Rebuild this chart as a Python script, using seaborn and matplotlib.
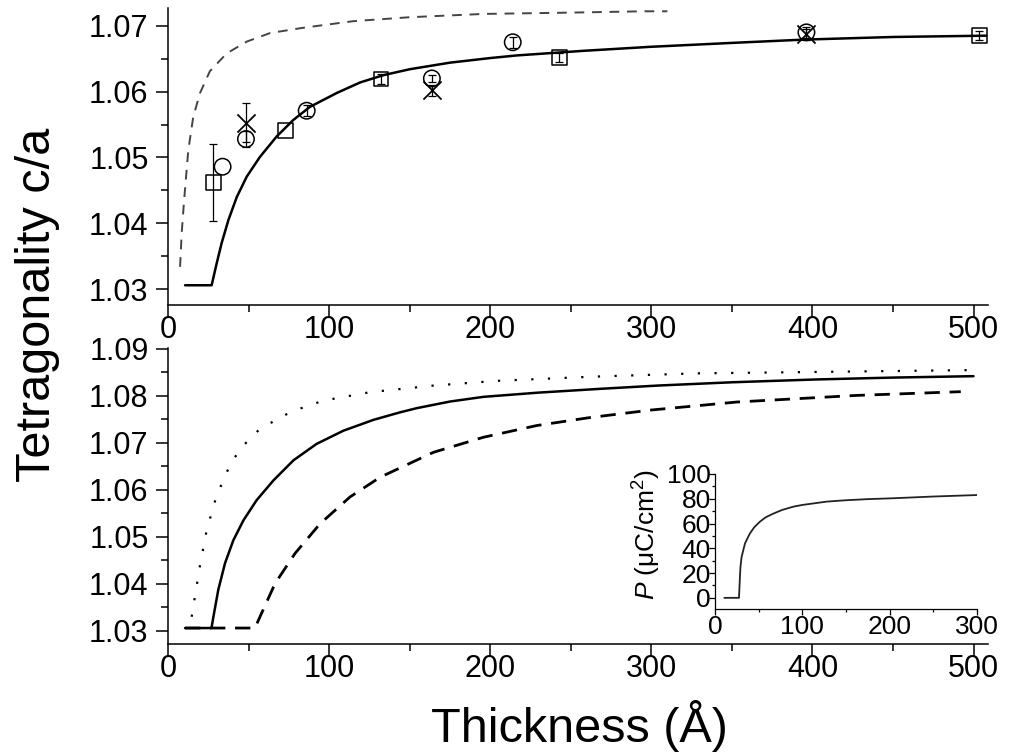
import numpy as np
import pandas as pd
import matplotlib
matplotlib.use("Agg")
import matplotlib.pyplot as plt
import seaborn as sns
from matplotlib.ticker import MultipleLocator, FormatStrFormatter

# --- values ---
# top panel: fit (solid), bulk-like curve (dashed), measured points
top_fit_x = [10.6, 27.1, 30.2, 33.3, 37.5, 42.7, 48.9, 57.1, 67.5, 77.8, 88.2, 104.8,
             119.3, 133.7, 150.0, 175.0, 200.0, 216.6, 258.0, 299.0, 350.0, 394.6,
             450.0, 508.0]
top_fit_y = [1.0306, 1.0306, 1.0339, 1.0370, 1.0405, 1.0440, 1.0471, 1.0501, 1.0532,
             1.0557, 1.0577, 1.0598, 1.0614, 1.0625, 1.0634, 1.0644, 1.0651, 1.0655,
             1.0662, 1.0668, 1.0674, 1.0679, 1.0683, 1.0685]
top_dash_x = [7.5, 8.5, 10.0, 12.6, 15.7, 19.9, 26.0, 36.4, 48.9, 63.4, 84.0, 115.0,
              150.0, 195.8, 250.0, 295.0, 310.0]
top_dash_y = [1.0334, 1.0385, 1.0435, 1.0511, 1.0562, 1.0598, 1.0631, 1.0658, 1.0676,
              1.0689, 1.0697, 1.0707, 1.0713, 1.0718, 1.0720, 1.0722, 1.0722]

sq_x = [28.2, 73.1, 132.3, 243.0, 503.7]
sq_y = [1.0462, 1.0541, 1.0619, 1.0652, 1.0685]
sq_err = [0.0058, 0.0, 0.0008, 0.0007, 0.0007]
circ_x = [33.9, 48.4, 86.1, 163.8, 214.0, 396.3]
circ_y = [1.0486, 1.0528, 1.0571, 1.0620, 1.0675, 1.0690]
circ_err = [0.0, 0.0012, 0.0008, 0.0005, 0.0008, 0.0008]
cross_x = [48.4, 163.8, 396.3]
cross_y = [1.0553, 1.0602, 1.0687]
cross_err = [0.0030, 0.0008, 0.0008]

# bottom panel: three model curves
bot_solid_x = [10.6, 27.0, 28.2, 31.2, 35.4, 40.6, 46.8, 55.0, 65.4, 77.9, 92.3, 108.9,
               127.5, 144.0, 154.5, 175.0, 195.8, 230.0, 268.0, 303.9, 350.0, 402.3,
               450.0, 500.0]
bot_solid_y = [1.0306, 1.0306, 1.0330, 1.0387, 1.0444, 1.0493, 1.0535, 1.0578, 1.0620,
               1.0663, 1.0698, 1.0726, 1.0749, 1.0765, 1.0774, 1.0788, 1.0798, 1.0807,
               1.0815, 1.0822, 1.0829, 1.0835, 1.0839, 1.0842]
bot_dot_x = [14.7, 19.9, 24.0, 30.1, 39.4, 47.8, 57.1, 76.8, 96.5, 125.5, 164.8, 204.0,
             264.0, 328.5, 427.0, 500.0]
bot_dot_y = [1.0330, 1.0440, 1.0514, 1.0587, 1.0660, 1.0698, 1.0730, 1.0767, 1.0790,
             1.0808, 1.0822, 1.0832, 1.0841, 1.0848, 1.0852, 1.0855]
bot_dash_x = [10.6, 54.0, 57.1, 66.5, 78.9, 94.4, 113.0, 131.7, 164.8, 195.8, 229.0,
              262.0, 300.0, 353.1, 427.0, 492.1]
bot_dash_y = [1.0306, 1.0306, 1.0330, 1.0401, 1.0465, 1.0528, 1.0585, 1.0627, 1.0680,
              1.0712, 1.0737, 1.0754, 1.0770, 1.0787, 1.0801, 1.0809]

# inset: polarization vs thickness
ins_x = [10.7, 27.5, 28.6, 29.2, 30.5, 34.4, 40.0, 45.0, 51.5, 58.0, 66.8, 77.0, 89.7,
         100.0, 128.0, 150.0, 175.0, 204.0, 250.0, 300.0]
ins_y = [0.0, 0.0, 17.0, 25.0, 33.0, 44.0, 52.0, 57.0, 61.5, 65.0, 68.0, 71.0, 73.6,
         75.0, 77.7, 78.8, 79.7, 80.4, 81.8, 83.0]

# --- style ---
sns.set_theme(style="ticks")
plt.rcParams["font.family"] = ["Liberation Sans", "DejaVu Sans"]
plt.rcParams["text.color"] = "black"
plt.rcParams["axes.labelcolor"] = "black"
plt.rcParams["mathtext.fontset"] = "custom"
plt.rcParams["mathtext.rm"] = "Liberation Sans"
plt.rcParams["mathtext.it"] = "Liberation Sans:italic"

fig = plt.figure(figsize=(10.15, 7.55), dpi=100)
ax_top = fig.add_axes([0.1655, 0.5960, 0.8079, 0.3934])
ax_bot = fig.add_axes([0.1655, 0.1470, 0.8079, 0.3921])
ax_in = fig.add_axes([0.7044, 0.1934, 0.2581, 0.1788])


def frame(ax, size, major, minor, width):
    for s in ["top", "right"]:
        ax.spines[s].set_visible(False)
    for s in ["left", "bottom"]:
        ax.spines[s].set_linewidth(width)
        ax.spines[s].set_color("black")
    ax.tick_params(which="both", direction="out", colors="black", width=width,
                   labelsize=size)
    ax.tick_params(which="major", length=major)
    ax.tick_params(which="minor", length=minor)
    ax.set_xlabel("")
    ax.set_ylabel("")
    ax.grid(False)
    ax.set_facecolor("none")


# top panel
sns.lineplot(x=top_dash_x, y=top_dash_y, ax=ax_top, color="#444444", linewidth=1.4,
             linestyle=(0, (5, 4)), estimator=None)
sns.lineplot(x=top_fit_x, y=top_fit_y, ax=ax_top, color="black", linewidth=1.8,
             estimator=None)

for xs, ys, es in [(sq_x, sq_y, sq_err), (circ_x, circ_y, circ_err),
                   (cross_x, cross_y, cross_err)]:
    keep = [i for i, e in enumerate(es) if e > 0]
    ax_top.errorbar([xs[i] for i in keep], [ys[i] for i in keep],
                    yerr=[es[i] for i in keep], fmt="none", ecolor="black",
                    elinewidth=0.9, capsize=3, capthick=0.9, zorder=4)

sns.scatterplot(x=sq_x, y=sq_y, ax=ax_top, marker="s", s=110, facecolors="none",
                edgecolor="black", linewidth=1.1, zorder=5)
sns.scatterplot(x=circ_x, y=circ_y, ax=ax_top, marker="o", s=140, facecolors="none",
                edgecolor="black", linewidth=1.1, zorder=5)
sns.scatterplot(x=cross_x, y=cross_y, ax=ax_top, marker="x", s=170, color="black",
                linewidth=1.3, zorder=5)

# bottom panel
sns.lineplot(x=bot_dot_x, y=bot_dot_y, ax=ax_bot, color="black", linewidth=1.6,
             linestyle=(0, (1, 6.5)), estimator=None)
sns.lineplot(x=bot_dash_x, y=bot_dash_y, ax=ax_bot, color="black", linewidth=2.0,
             linestyle=(0, (5.5, 3.5)), estimator=None)
sns.lineplot(x=bot_solid_x, y=bot_solid_y, ax=ax_bot, color="black", linewidth=1.8,
             estimator=None)

# inset
sns.lineplot(x=ins_x, y=ins_y, ax=ax_in, color="#222222", linewidth=1.3,
             estimator=None)

# axes, ticks
for ax, lo, hi in [(ax_top, 1.0276, 1.0727), (ax_bot, 1.0272, 1.0902)]:
    frame(ax, 22, 9, 5, 1.1)
    ax.set_xlim(0, 509)
    ax.set_ylim(lo, hi)
    ax.xaxis.set_major_locator(MultipleLocator(100))
    ax.xaxis.set_minor_locator(MultipleLocator(50))
    ax.yaxis.set_major_locator(MultipleLocator(0.01))
    ax.yaxis.set_minor_locator(MultipleLocator(0.005))
    ax.yaxis.set_major_formatter(FormatStrFormatter("%.2f"))
    ax.tick_params(axis="x", pad=-2)
    ax.tick_params(axis="y", pad=5)

frame(ax_in, 19, 4, 2.5, 0.9)
ax_in.set_xlim(0, 300)
ax_in.set_ylim(-9, 100)
ax_in.xaxis.set_major_locator(MultipleLocator(100))
ax_in.xaxis.set_minor_locator(MultipleLocator(50))
ax_in.yaxis.set_major_locator(MultipleLocator(20))
ax_in.yaxis.set_minor_locator(MultipleLocator(10))
ax_in.tick_params(axis="x", pad=0.5)
ax_in.tick_params(axis="y", pad=-1)
ax_in.set_ylabel(r"$P$ (μC/cm$^2$)", fontsize=19, color="black")
ax_in.yaxis.set_label_coords(-0.20, 0.55)

# shared labels
fig.text(0.0374, 0.596, "Tetragonality c/a", rotation=90, ha="center", va="center",
         fontsize=35, color="black")
fig.text(0.571, 0.0172, "Thickness (Å)", ha="center", va="baseline", fontsize=35,
         color="black")

fig.savefig("out.png", dpi=100)
